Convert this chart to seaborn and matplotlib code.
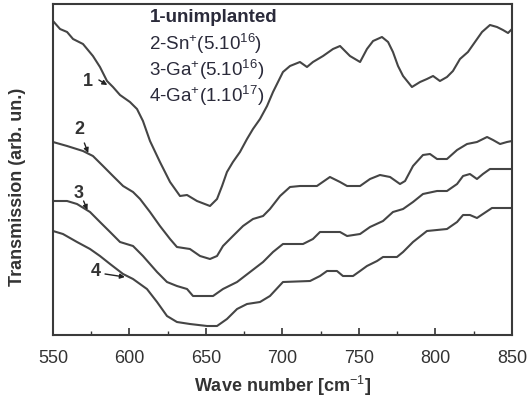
import matplotlib
matplotlib.use("Agg")
import matplotlib.pyplot as plt
from matplotlib.ticker import MultipleLocator
import seaborn as sns
import pandas as pd

# ---- data (arbitrary transmission units) ----
wn1 = [550, 554.6, 559.2, 563.1, 569.6, 576.1, 580.7, 585.3, 589.2, 593.8, 600.3, 604.9,
       608.8, 613.4, 619.9, 626.5, 633.0, 637.6, 644.1, 652.6, 657.2, 660.5, 663.7, 667.6,
       672.2, 676.8, 680.7, 685.3, 689.9, 693.8, 700.3, 704.9, 711.4, 716.0, 719.9, 726.5,
       733.0, 737.6, 744.1, 750.7, 755.2, 759.2, 765.0, 769.0, 772.2, 775.5, 778.8, 784.6,
       789.9, 794.4, 798.4, 802.9, 807.5, 811.4, 816.0, 821.2, 825.8, 830.4, 835.6, 840.2,
       844.1, 847.4, 850]
t1 = [314, 306, 303, 296, 291, 279, 268, 254, 248, 240, 233, 226,
      214, 194, 173, 153, 139, 140, 134, 129, 136, 149, 163, 173,
      183, 196, 206, 216, 229, 243, 263, 269, 273, 268, 273, 279,
      286, 289, 279, 273, 286, 294, 298, 293, 283, 269, 259, 248,
      253, 256, 259, 254, 258, 264, 276, 283, 293, 303, 310, 308,
      305, 302, 306]

wn2 = [550, 559.2, 569.6, 576.1, 582.7, 589.2, 595.8, 602.3, 606.9, 613.4, 619.9, 626.5,
       631.0, 639.5, 646.1, 652.6, 657.2, 661.1, 667.6, 674.2, 680.7, 687.3, 691.8, 698.4,
       704.9, 711.4, 722.5, 731.0, 737.6, 742.2, 750.7, 757.2, 763.7, 770.3, 776.8, 780.1,
       785.3, 791.8, 796.4, 801.0, 807.5, 814.1, 820.6, 827.1, 833.7, 837.6, 842.2, 846.7, 850]
t2 = [193, 189, 184, 179, 169, 159, 149, 143, 136, 123, 109, 96,
      88, 86, 79, 76, 79, 89, 99, 109, 116, 119, 126, 139,
      148, 149, 149, 158, 153, 149, 149, 156, 160, 158, 151, 154,
      169, 180, 181, 176, 176, 185, 191, 193, 198, 195, 191, 193, 194]

wn3 = [550, 559.2, 565.7, 574.2, 580.7, 587.3, 593.8, 602.3, 608.8, 618.0, 624.5, 631.0,
       637.6, 641.5, 654.6, 661.1, 670.3, 678.8, 687.3, 693.8, 700.3, 713.4, 719.9, 724.5,
       737.6, 742.2, 750.7, 757.2, 765.7, 772.2, 778.8, 785.3, 791.8, 801.0, 807.5, 814.1,
       818.0, 822.5, 827.1, 831.0, 835.6, 850]
t3 = [134, 134, 131, 123, 113, 103, 93, 89, 79, 63, 53, 49,
      46, 39, 39, 46, 53, 63, 73, 83, 91, 91, 96, 103,
      103, 99, 101, 108, 114, 123, 126, 133, 141, 144, 144, 151,
      159, 161, 156, 161, 166, 166]

wn4 = [550, 556.5, 565.7, 574.2, 580.7, 587.3, 595.8, 602.3, 611.4, 618.0, 624.5, 631.0,
       639.5, 650.7, 657.2, 663.7, 670.3, 676.8, 685.3, 691.8, 700.3, 718.0, 724.5, 729.1,
       735.6, 739.5, 746.1, 750.7, 755.2, 761.8, 765.7, 774.8, 778.8, 785.3, 794.4, 807.5,
       814.1, 818.0, 822.5, 827.1, 831.0, 836.9, 850]
t4 = [104, 101, 93, 86, 79, 71, 61, 56, 46, 33, 19, 13,
      11, 9, 9, 16, 26, 31, 33, 39, 53, 54, 59, 64,
      64, 59, 59, 64, 69, 74, 78, 78, 83, 93, 104, 106,
      113, 120, 120, 117, 121, 127, 127]

legend_lines = ["1-unimplanted",
                "2-Sn$^{+}$(5.10$^{16}$)",
                "3-Ga$^{+}$(5.10$^{16}$)",
                "4-Ga$^{+}$(1.10$^{17}$)"]
curve_labels = ["1", "2", "3", "4"]
x_ticks = [550, 600, 650, 700, 750, 800, 850]

# ---- style ----
sns.set_style("white")
plt.rcParams["font.family"] = ["Liberation Sans", "DejaVu Sans"]
plt.rcParams["mathtext.fontset"] = "custom"
plt.rcParams["mathtext.rm"] = "Liberation Sans"
plt.rcParams["mathtext.it"] = "Liberation Sans:italic"
plt.rcParams["mathtext.bf"] = "Liberation Sans:bold"

frames = []
for name, x, y in [("1", wn1, t1), ("2", wn2, t2), ("3", wn3, t3), ("4", wn4, t4)]:
    frames.append(pd.DataFrame({"wn": x, "T": y, "curve": name}))
df = pd.concat(frames, ignore_index=True)

fig = plt.figure(figsize=(5.29, 4.10), dpi=100)
ax = fig.add_axes([53 / 529, 74 / 410, 459 / 529, 331 / 410])

line_color = "#454545"
for name in curve_labels:
    sns.lineplot(data=df[df["curve"] == name], x="wn", y="T", ax=ax,
                 color=line_color, linewidth=1.5, sort=False, estimator=None,
                 legend=False)

ax.set_xlim(550, 850)
ax.set_ylim(0, 331)
ax.set_xticks(x_ticks)
ax.xaxis.set_minor_locator(MultipleLocator(25))
ax.set_yticks([])
ax.tick_params(axis="x", which="major", direction="in", length=5, width=1.2,
               color="#333333", labelsize=13, labelcolor="#333333", pad=10,
               top=False, bottom=True)
ax.tick_params(axis="x", which="minor", direction="in", length=3, width=1.0,
               color="#333333", top=False, bottom=True)
for sp in ["left", "right", "top", "bottom"]:
    ax.spines[sp].set_visible(True)
    ax.spines[sp].set_color("#3a3a3a")
    ax.spines[sp].set_linewidth(1.5)
    ax.spines[sp].set_zorder(5)

ax.set_xlabel("Wave number [cm$^{-1}$]", fontsize=13, color="#333333",
              fontweight="bold", labelpad=5)
ax.set_ylabel("Transmission (arb. un.)", fontsize=13, color="#333333",
              fontweight="bold")
ax.yaxis.set_label_coords(-0.058, 0.45)

# legend text block
ys = [318, 292, 266, 240]
for i, (txt, yy) in enumerate(zip(legend_lines, ys)):
    ax.text(613, yy, txt, fontsize=13.5, color="#2a2a3a",
            fontweight="bold" if i == 0 else "normal", va="center", ha="left")

# curve number labels with small arrows
label_pos = [(572.5, 255), (567.5, 207), (567.0, 143), (578.0, 64)]
arrow_from = [(580.0, 255), (570.5, 192), (570.0, 134), (584.0, 61)]
arrow_to = [(585.5, 250), (573.0, 182), (572.5, 125), (597.0, 58)]
for lab, lp, af, at in zip(curve_labels, label_pos, arrow_from, arrow_to):
    ax.text(lp[0], lp[1], lab, fontsize=13, fontweight="bold", color="#333333",
            ha="center", va="center")
    ax.annotate("", xy=at, xytext=af,
                arrowprops=dict(arrowstyle="-|>", color="#222222", lw=1.0,
                                mutation_scale=7, shrinkA=0, shrinkB=0))

fig.savefig("out.png", dpi=100)
